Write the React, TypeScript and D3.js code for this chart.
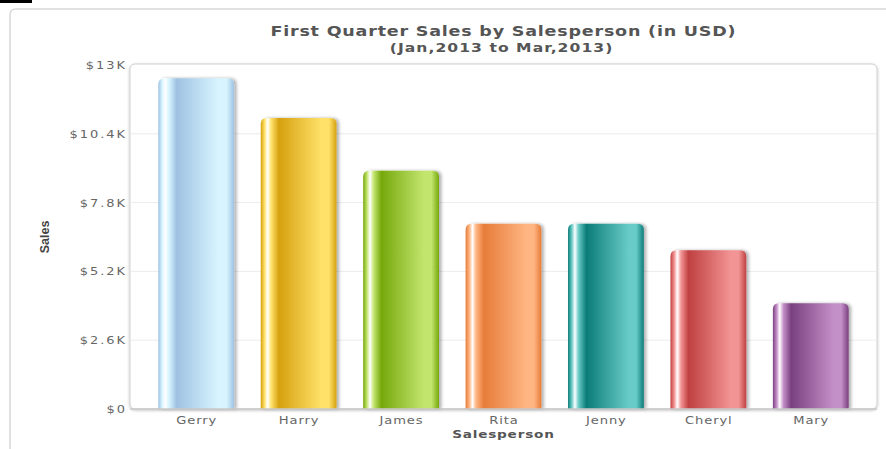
import React from "react";
import * as d3 from "d3";

const categories = ["Gerry", "Harry", "James", "Rita", "Jenny", "Cheryl", "Mary"];
const sales = [12500, 11000, 9000, 7000, 7000, 6000, 4000];
const yTicks = [0, 2600, 5200, 7800, 10400, 13000];
const yTickLabels = ["$0", "$2.6K", "$5.2K", "$7.8K", "$10.4K", "$13K"];
const barDark = ["#9fc2e2", "#d6a10f", "#76a80b", "#e67c3a", "#0b7c78", "#c04040", "#7a4080"];
const barLight = ["#d8f5ff", "#ffe169", "#c2e56e", "#ffb582", "#68cbc7", "#f39494", "#c490c8"];
const title = "First Quarter Sales by Salesperson (in USD)";
const subtitle = "(Jan,2013 to Mar,2013)";
const xTitle = "Salesperson";
const yTitle = "Sales";

const W = 886;
const H = 449;
const plot = { left: 130, right: 877, top: 64, bottom: 409 };
const font = "'DejaVu Sans', Verdana, sans-serif";

type WTProps = {
  x: number;
  y: number;
  sx: number;
  ls: number;
  size: number;
  anchor: "start" | "middle" | "end";
  bold?: boolean;
  fill: string;
  children: React.ReactNode;
};

function WideText({ x, y, sx, ls, size, anchor, bold, fill, children }: WTProps) {
  const shift = anchor === "middle" ? ls / 2 : anchor === "end" ? ls : 0;
  return (
    <g transform={`translate(${x},${y}) scale(${sx},1)`}>
      <text
        x={shift}
        y={0}
        textAnchor={anchor}
        fontFamily={font}
        fontSize={size}
        fontWeight={bold ? "bold" : "normal"}
        letterSpacing={ls}
        fill={fill}
      >
        {children}
      </text>
    </g>
  );
}

export default function App() {
  const x = d3
    .scaleBand<string>()
    .domain(categories)
    .range([plot.left + 15, plot.right - 15])
    .paddingInner(0.26)
    .paddingOuter(0.13);
  const y = d3.scaleLinear().domain([0, 13000]).range([plot.bottom, plot.top + 1]);
  const bw = x.bandwidth();
  const r = 6;
  const barPath = (x0: number, y0: number, w: number, h: number) => {
    const p = d3.path();
    p.moveTo(x0, y0 + h);
    p.lineTo(x0, y0 + r);
    p.quadraticCurveTo(x0, y0, x0 + r, y0);
    p.lineTo(x0 + w - r, y0);
    p.quadraticCurveTo(x0 + w, y0, x0 + w, y0 + r);
    p.lineTo(x0 + w, y0 + h);
    p.closePath();
    return p.toString();
  };
  return (
    <div style={{ position: "absolute", left: 0, top: 0, width: W, height: H }}>
      <svg width={W} height={H} style={{ display: "block" }}>
        <defs>
          {categories.map((c, i) => (
            <linearGradient key={c} id={`g${i}`} x1="0" x2="1" y1="0" y2="0">
              <stop offset="0%" stopColor={barDark[i]} />
              <stop offset="5%" stopColor={barLight[i]} />
              <stop offset="9%" stopColor="#ffffff" stopOpacity={1} />
              <stop offset="14%" stopColor={barLight[i]} />
              <stop offset="24%" stopColor={barDark[i]} />
              <stop offset="80%" stopColor={barLight[i]} />
              <stop offset="90%" stopColor={barLight[i]} />
              <stop offset="100%" stopColor={barDark[i]} />
            </linearGradient>
          ))}
          <filter id="barShadow" x="-10%" y="-10%" width="130%" height="120%">
            <feDropShadow dx="2.5" dy="0" stdDeviation="1.5" floodColor="#000" floodOpacity="0.3" />
          </filter>
          <filter id="plotShadow" x="-5%" y="-5%" width="110%" height="110%">
            <feDropShadow dx="0" dy="1" stdDeviation="1.5" floodColor="#000" floodOpacity="0.25" />
          </filter>
        </defs>
        <rect x={0} y={0} width={W} height={H} fill="#ffffff" />
        <rect x={0} y={0} width={32} height={3} fill="#000" />
        <path d={`M10,${H} L10,15 Q10,9 16,9 L${W},9`} fill="none" stroke="#d8d8d8" strokeWidth={1.5} />
        <WideText x={503} y={36} sx={1.3} ls={0.6} size={13.5} anchor="middle" bold fill="#555">
          {title}
        </WideText>
        <WideText x={501} y={52} sx={1.3} ls={0.8} size={12} anchor="middle" bold fill="#555">
          {subtitle}
        </WideText>
        <rect
          x={plot.left}
          y={plot.top}
          width={plot.right - plot.left}
          height={plot.bottom - plot.top}
          rx={5}
          fill="#fff"
          stroke="#cfcfcf"
          strokeWidth={1}
          filter="url(#plotShadow)"
        />
        {yTicks.map((t) =>
          t > 0 && t < 13000 ? (
            <line key={t} x1={plot.left} x2={plot.right} y1={y(t)} y2={y(t)} stroke="#ececec" strokeWidth={1} />
          ) : null
        )}
        {yTicks.map((t, i) => (
          <WideText key={t} x={125} y={y(t) + 4} sx={1.3} ls={1.5} size={10} anchor="end" fill="#666">
            {yTickLabels[i]}
          </WideText>
        ))}
        {categories.map((c, i) => {
          const x0 = x(c) as number;
          const y0 = y(sales[i]);
          return (
            <path
              key={c}
              d={barPath(x0, y0, bw, plot.bottom - y0)}
              fill={`url(#g${i})`}
              filter="url(#barShadow)"
            />
          );
        })}
        <line x1={plot.left} x2={plot.right} y1={plot.bottom} y2={plot.bottom} stroke="#c8c8c8" strokeWidth={1.5} />
        {categories.map((c) => (
          <WideText
            key={c}
            x={(x(c) as number) + bw / 2}
            y={424}
            sx={1.25}
            ls={0.7}
            size={10.5}
            anchor="middle"
            fill="#666"
          >
            {c}
          </WideText>
        ))}
        <WideText x={503} y={438} sx={1.3} ls={0.6} size={10.5} anchor="middle" bold fill="#555">
          {xTitle}
        </WideText>
        <text
          transform={`translate(49,237) rotate(-90)`}
          textAnchor="middle"
          fontFamily="'Liberation Sans', Arial, sans-serif"
          fontWeight="bold"
          fontSize={12.5}
          fill="#444"
        >
          {yTitle}
        </text>
      </svg>
    </div>
  );
}
